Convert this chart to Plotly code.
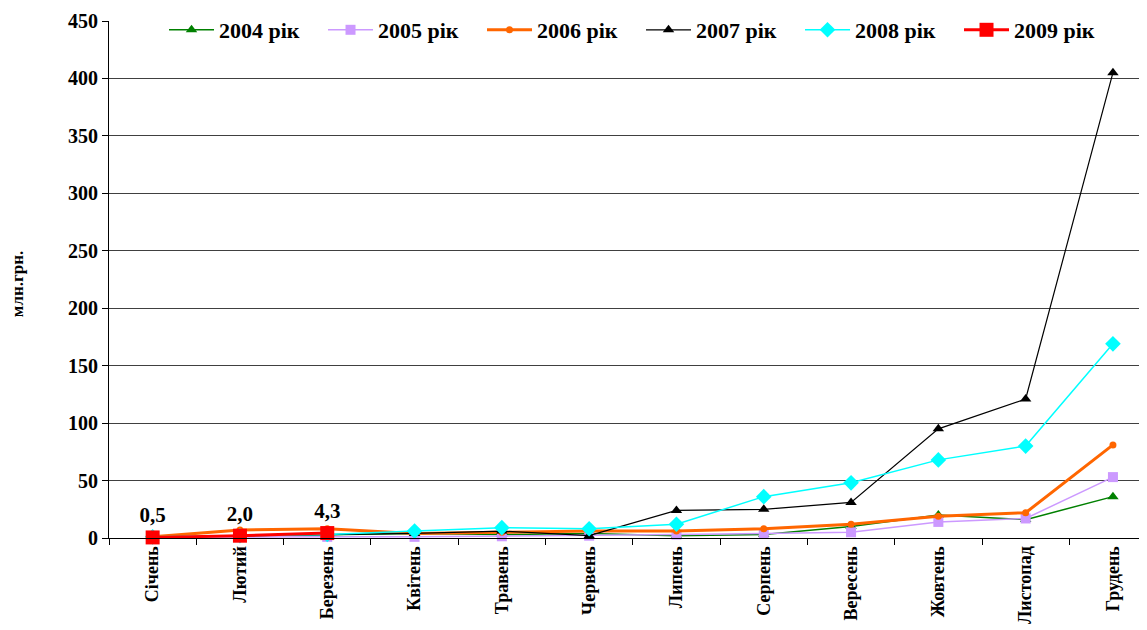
import plotly.graph_objects as go

months = ["Січень", "Лютий", "Березень", "Квітень", "Травень", "Червень",
          "Липень", "Серпень", "Вересень", "Жовтень", "Листопад", "Грудень"]

y2004 = [0.5, 1.5, 2.5, 4, 3, 4, 2, 3, 10, 20, 16, 36]
y2005 = [0.5, 1, 1, 1, 1.5, 2, 3, 4, 5, 14, 17, 53]
y2006 = [1, 7, 8, 4, 5, 6, 6, 8, 12, 19, 22, 81]
y2007 = [0.5, 2, 3, 4, 6, 2, 24, 25, 31, 95, 121, 405]
y2008 = [1, 2, 3, 6, 9, 8, 12, 36, 48, 68, 80, 169]
y2009 = [0.5, 2.0, 4.3]

FONT = "Times New Roman, Liberation Serif, DejaVu Serif, serif"

fig = go.Figure()

def add(name, y, color, width, symbol, size, text=None):
    fig.add_trace(go.Scatter(
        x=months[:len(y)], y=y, name=name, mode="lines+markers+text" if text else "lines+markers",
        line=dict(color=color, width=width),
        marker=dict(symbol=symbol, size=size, color=color),
        text=text, textposition="top center",
        textfont=dict(family=FONT, size=21, color="black"),
        cliponaxis=False,
    ))

add("<b>2004 рік</b>", y2004, "#008000", 1.5, "triangle-up", 10)
add("<b>2005 рік</b>", y2005, "#CC99FF", 1.5, "square", 10)
add("<b>2006 рік</b>", y2006, "#FF6600", 3, "circle", 7)
add("<b>2007 рік</b>", y2007, "#000000", 1.2, "triangle-up", 10)
add("<b>2008 рік</b>", y2008, "#00FFFF", 1.5, "diamond", 12)
add("<b>2009 рік</b>", y2009, "#FF0000", 3, "square", 14,
    text=["<b>" + f"{v:.1f}".replace(".", ",") + "</b>" for v in y2009])

fig.update_layout(
    width=1139, height=622,
    margin=dict(l=101, r=0, t=13, b=92, autoexpand=False),
    paper_bgcolor="white", plot_bgcolor="white",
    font=dict(family=FONT, size=16, color="black"),
    showlegend=True,
    legend=dict(orientation="h", x=0.053, xanchor="left", y=0.9826, yanchor="middle",
                bgcolor="white", font=dict(family=FONT, size=22, color="black"),
                itemwidth=45, entrywidth=99, tracegroupgap=0),
    xaxis=dict(
        type="category", range=[-0.5, 11.39], automargin=False,
        tickangle=-90, tickfont=dict(family=FONT, size=18, color="black"),
        tickprefix="<b>", ticksuffix="</b>",
        showline=True, linecolor="black", linewidth=1,
        ticks="outside", ticklen=6, tickcolor="black", tickson="boundaries",
        showgrid=False, fixedrange=True,
    ),
    yaxis=dict(
        range=[0, 450], dtick=50, tick0=0, automargin=False,
        tickfont=dict(family=FONT, size=20, color="black"),
        tickprefix="<b>", ticksuffix="</b>",
        showline=True, linecolor="black", linewidth=1,
        ticks="outside", ticklen=6, tickcolor="black",
        showgrid=True, gridcolor="#404040", gridwidth=1,
        zeroline=False,
    ),
    annotations=[dict(
        text="<b>млн.грн.</b>", textangle=-90, xref="paper", yref="paper",
        x=-0.0886, y=0.491, xanchor="center", yanchor="middle", showarrow=False,
        font=dict(family=FONT, size=17, color="black"),
    )],
)

fig.write_html("out.html")
